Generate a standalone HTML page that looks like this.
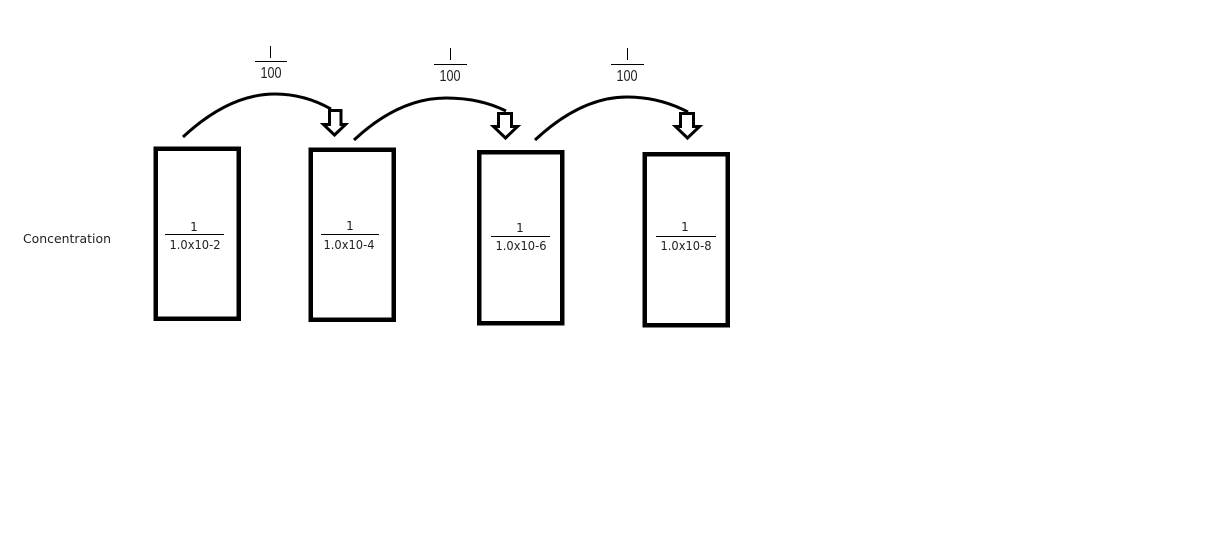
<!DOCTYPE html>
<html><head><meta charset="utf-8"><style>
html,body{margin:0;padding:0;background:#fff;width:1225px;height:540px;overflow:hidden}
svg{display:block}
.t{font-family:"DejaVu Sans","Liberation Sans",sans-serif;font-size:12px;fill:#222;text-anchor:middle}
.h{font-family:"Liberation Sans",sans-serif;font-size:16px;fill:#222;text-anchor:middle}
</style></head><body>
<svg width="1225" height="540" viewBox="0 0 1225 540" xmlns="http://www.w3.org/2000/svg">
<rect width="1225" height="540" fill="#fff"/>
<g fill="none" stroke="#000" stroke-width="4.500">
<rect x="155.750" y="148.750" width="83" height="170"/>
<rect x="310.750" y="149.750" width="83" height="170"/>
<rect x="479.250" y="152.250" width="83" height="171"/>
<rect x="644.750" y="154.250" width="83" height="171"/>
</g>
<g fill="none" stroke="#000" stroke-width="3">
<path d="M183 137C213 109 243 94 275 94C296 94 315 100 331 109"/>
<path d="M354 140C384 112 414 98 446 98C467 98 488 102 506 111"/>
<path d="M535 140C565 112 595 97 627 97C648 97 669 102 688 112"/>
</g>
<g fill="#fff" stroke="#000" stroke-width="3" stroke-linejoin="miter">
<path d="M329.500 110.500H341V124.500H345.500L334.500 135L323.500 124.500H329.500Z"/>
<path d="M498.500 113.500H511.500V126.500H517.500L505.500 138L493.500 126.500H498.500Z"/>
<path d="M680.500 113.500H693.500V126.500H699.500L687.500 138L675.500 126.500H680.500Z"/>
</g>
<g stroke="#000" stroke-width="1" fill="none">
<path d="M255 61.500H287M434 64.500H467M611 64.500H644"/>
<path d="M165 234.500H224M321 234.500H379M491 236.500H550M656 236.500H716"/>
<path d="M270.500 46V58M450.500 48V60M627.500 48V60"/>
</g>
<text class="h" x="271" y="78" textLength="21" lengthAdjust="spacingAndGlyphs">100</text>
<text class="h" x="450" y="81" textLength="21" lengthAdjust="spacingAndGlyphs">100</text>
<text class="h" x="627" y="81" textLength="21" lengthAdjust="spacingAndGlyphs">100</text>
<text class="t" x="67" y="243" textLength="88" lengthAdjust="spacingAndGlyphs">Concentration</text>
<text class="t" x="194" y="231">1</text><text class="t" x="195" y="249" textLength="51" lengthAdjust="spacingAndGlyphs">1.0x10-2</text>
<text class="t" x="350" y="230">1</text><text class="t" x="349" y="249" textLength="51" lengthAdjust="spacingAndGlyphs">1.0x10-4</text>
<text class="t" x="520" y="232">1</text><text class="t" x="521" y="250" textLength="51" lengthAdjust="spacingAndGlyphs">1.0x10-6</text>
<text class="t" x="685" y="231">1</text><text class="t" x="686" y="250" textLength="51" lengthAdjust="spacingAndGlyphs">1.0x10-8</text>
</svg>
</body></html>
